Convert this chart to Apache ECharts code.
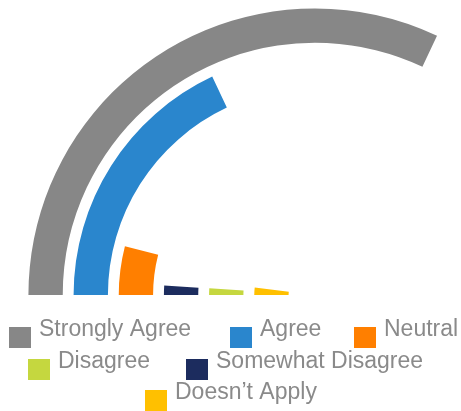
<!DOCTYPE html>
<html>
<head>
<meta charset="utf-8">
<script src="https://cdn.jsdelivr.net/npm/echarts@6/dist/echarts.min.js"></script>
<style>
  html, body { margin: 0; padding: 0; background: #ffffff; }
  #chart { width: 461px; height: 411px; }
</style>
</head>
<body>
<div id="chart"></div>
<script>
// Rings, innermost first (radius category axis runs from the centre outwards)
const ringOrder = ['Doesn\u2019t Apply', 'Disagree', 'Somewhat Disagree', 'Neutral', 'Agree', 'Strongly Agree'];
// Responses per answer (angle axis spans 0..100 around the full circle)
const responses = {
  'Strongly Agree': 32,
  'Agree': 18,
  'Neutral': 4,
  'Somewhat Disagree': 1,
  'Disagree': 1,
  'Doesn\u2019t Apply': 2
};
// Legend order
const legendOrder = ['Strongly Agree', 'Agree', 'Neutral', 'Disagree', 'Somewhat Disagree', 'Doesn\u2019t Apply'];
const colors = {
  'Strongly Agree': '#878787',
  'Agree': '#2a86cd',
  'Neutral': '#ff7f00',
  'Disagree': '#c5d73f',
  'Somewhat Disagree': '#1c2c5e',
  'Doesn\u2019t Apply': '#ffc000'
};
// Legend item anchors
const legendPos = [
  { left: 9, top: 318 },
  { left: 230, top: 318 },
  { left: 354, top: 318 },
  { left: 28, top: 350 },
  { left: 186, top: 350 },
  { left: 145, top: 381 }
];

const series = legendOrder.map(name => ({
  name: name,
  type: 'bar',
  coordinateSystem: 'polar',
  stack: 'rings',
  barCategoryGap: '24%',
  itemStyle: { color: colors[name] },
  data: ringOrder.map(r => (r === name ? responses[name] : '-'))
}));

// An empty second line lifts each label above the swatch's centre
const legends = legendOrder.map((name, i) => ({
  data: [name],
  left: legendPos[i].left,
  top: legendPos[i].top,
  padding: 0,
  icon: 'rect',
  itemWidth: 22,
  itemHeight: 21,
  selectedMode: false,
  formatter: n => n + '\n',
  textStyle: {
    fontFamily: 'Liberation Sans, Arial, sans-serif',
    fontSize: 23,
    lineHeight: 16,
    color: '#8a8a8a',
    padding: [0, 0, 0, 3]
  }
}));

const chart = echarts.init(document.getElementById('chart'));
chart.setOption({
  animation: false,
  polar: { center: [315, 295], radius: [21, 292] },
  angleAxis: {
    type: 'value',
    min: 0,
    max: 100,
    startAngle: 180,
    clockwise: true,
    show: false
  },
  radiusAxis: {
    type: 'category',
    data: ringOrder,
    show: false
  },
  legend: legends,
  series: series
});
</script>
</body>
</html>
